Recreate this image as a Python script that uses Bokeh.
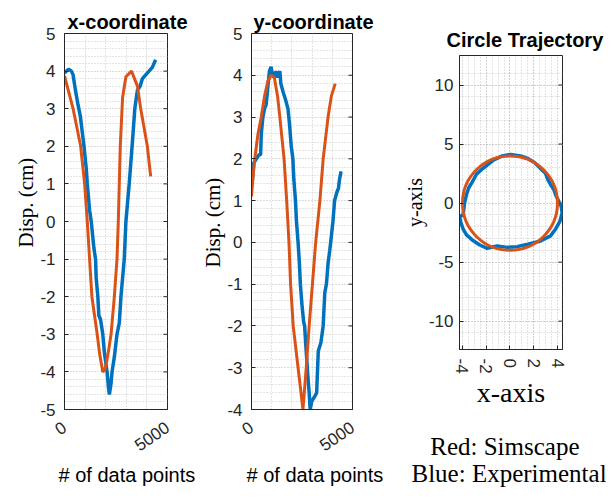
from jinja2 import Template
from bokeh.plotting import figure
from bokeh.models import Range1d, FixedTicker, Title
from bokeh.embed import file_html
from bokeh.resources import INLINE

# ---------------- data ----------------
# x-coordinate panel (index of data point, displacement in cm)
xc_sim_idx = [0, 417, 785, 977, 1106, 1218, 1330, 1587, 1700, 1859, 1950, 2020, 2150, 2260, 2420, 2548,
              2612, 2660, 2708, 2820, 2980, 3253, 3540, 3700, 4022, 4183]
xc_sim_val = [3.87, 3.0, 2.0, 1.0, 0.0, -1.0, -2.0, -3.0, -3.5, -4.0, -3.95, -3.8, -3.4, -3.0, -2.0, -1.0,
              0.0, 1.0, 2.0, 3.3, 3.85, 4.0, 3.6, 3.0, 2.0, 1.2]
xc_exp_idx = [0, 96, 200, 337, 417, 529, 657, 769, 946, 1058, 1106, 1218, 1298, 1426, 1506, 1538, 1619,
              1667, 1747, 1859, 1939, 2067, 2131, 2179, 2260, 2308, 2420, 2548, 2660, 2740, 2821, 2901,
              2981, 3061, 3141, 3253, 3349, 3413, 3462, 3542, 3670, 3782, 3942, 4103, 4263, 4423]
xc_exp_val = [3.95, 4.0, 4.05, 4.0, 3.9, 3.5, 3.1, 2.8, 2.0, 1.4, 1.0, 0.3, 0.0, -0.7, -1.0, -1.5, -2.0,
              -2.5, -2.6, -3.0, -3.5, -4.0, -4.4, -4.6, -4.3, -4.0, -3.6, -3.0, -2.7, -2.0, -1.5, -1.0,
              0.0, 0.5, 1.0, 1.8, 2.5, 3.0, 3.2, 3.5, 3.6, 3.8, 3.9, 4.0, 4.1, 4.3]

# y-coordinate panel
yc_sim_idx = [0, 81, 161, 323, 484, 645, 806, 968, 1129, 1290, 1403, 1613, 1742, 1855, 1935, 2065, 2306,
              2548, 2710, 2855, 3016, 3177, 3387, 3548, 3790, 3952, 4145]
yc_sim_val = [1.1, 1.6, 2.0, 2.6, 3.0, 3.5, 3.85, 4.0, 3.95, 3.5, 3.0, 2.0, 1.0, 0.0, -1.0, -2.0, -3.0,
              -4.0, -3.0, -2.0, -1.0, 0.0, 1.0, 2.0, 3.0, 3.5, 3.8]
yc_exp_idx = [48, 113, 242, 371, 452, 484, 565, 645, 726, 806, 887, 968, 1048, 1129, 1210, 1290, 1403,
              1452, 1565, 1694, 1806, 1887, 1968, 2048, 2097, 2177, 2226, 2306, 2371, 2419, 2500, 2581,
              2629, 2694, 2790, 2855, 2903, 2984, 3113, 3226, 3306, 3435, 3548, 3629, 3710, 3790, 3871,
              3919, 4032, 4113, 4226, 4306, 4355, 4435]
yc_exp_val = [1.5, 1.9, 2.0, 2.1, 2.1, 2.6, 3.0, 3.2, 3.3, 3.7, 4.1, 4.2, 4.0, 3.95, 4.1, 3.95, 4.1,
              3.8, 3.6, 3.4, 3.2, 2.8, 2.3, 2.0, 1.5, 1.0, 0.5, 0.0, -0.5, -1.0, -1.5, -1.9,
              -2.0, -2.5, -3.2, -3.6, -4.0, -3.8, -3.7, -3.6, -2.6, -2.4, -2.0, -1.2, -1.0, -0.5, -0.2,
              0.0, 0.5, 1.0, 1.2, 1.3, 1.5, 1.7]

# circle trajectory panel
circ_exp_x = [3.97, 4.31, 4.39, 4.2, 3.83, 3.41, 2.57, 1.5, 0.6, -0.24, -1.08, -1.92, -2.54, -3.18,
              -3.66, -3.94, -4.17, -4.22, -3.94, -3.83, -3.66, -3.47, -3.18, -2.82, -2.43, -1.92,
              -1.36, -0.66, 0.04, 0.88, 1.5, 2.06, 2.57, 2.99, 3.18, 3.41, 3.69, 3.83, 3.97]
circ_exp_y = [0.44, -0.27, -0.84, -1.55, -2.21, -2.78, -3.21, -3.49, -3.69, -3.75, -3.63, -3.83, -3.55,
              -3.12, -2.69, -2.21, -1.55, -1.13, -0.98, 0.01, 0.73, 1.3, 1.78, 2.44, 2.81, 3.21,
              3.66, 4.0, 4.12, 4.0, 3.78, 3.43, 2.92, 2.52, 2.01, 1.58, 1.15, 0.73, 0.44]
circ_sim_cx = [0.0]
circ_sim_cy = [0.0]
circ_sim_diam = [8.0]

# ticks
idx_ticks = [0, 5000]
idx_minor = [1000, 2000, 3000, 4000]
xc_ticks = [-5, -4, -3, -2, -1, 0, 1, 2, 3, 4, 5]
yc_ticks = [-4, -3, -2, -1, 0, 1, 2, 3, 4, 5]
cx_ticks = [-4, -2, 0, 2, 4]
cy_ticks = [-10, -5, 0, 5, 10]

BLUE = "#0072BD"
RED = "#D95319"
AX = "#262626"
SANS = "Liberation Sans"
SERIF = "Liberation Serif"
NB = "\u00a0"


def minors(ticks, step):
    lo, hi = min(ticks), max(ticks)
    n = int(round((hi - lo) / step))
    vals = [round(lo + i * step, 6) for i in range(n + 1)]
    return [v for v in vals if all(abs(v - t) > 1e-6 for t in ticks)]


def style(p, xt, xm, yt, ym, x_hi):
    p.outline_line_color = AX
    p.outline_line_width = 1
    p.background_fill_color = "white"
    p.border_fill_color = "white"
    for ax, t, m in ((p.xaxis[0], xt, xm), (p.yaxis[0], yt, ym)):
        ax.ticker = FixedTicker(ticks=t, minor_ticks=m)
        ax.major_label_overrides = {v: str(v) for v in t}
        ax.major_tick_in = 4
        ax.major_tick_out = 0
        ax.minor_tick_line_color = None
        ax.axis_line_color = AX
        ax.major_tick_line_color = AX
        ax.major_label_text_font = SANS
        ax.major_label_text_font_size = "17px"
        ax.major_label_text_color = AX
    for g in (p.xgrid[0], p.ygrid[0]):
        g.grid_line_color = "#b8b8b8"
        g.grid_line_dash = "1 2"
        g.minor_grid_line_color = "#c8c8c8"
        g.minor_grid_line_dash = "1 2"
    # tick marks on the right edge of the box (inner half of a dash marker)
    p.scatter(x=[x_hi] * len(yt), y=yt, marker="dash", size=8, line_color=AX, line_width=1)


def add_title(p, side, text, font, size, style_, offset, standoff):
    p.add_layout(Title(text=text, align="left", offset=offset, standoff=standoff,
                       text_font=font, text_font_size=size, text_font_style=style_,
                       text_color="black"), side)


# ---------------- panel 1 ----------------
p1 = figure(width=190, height=490, min_border_left=56, min_border_right=31,
            min_border_top=25, min_border_bottom=89, x_range=Range1d(0, 5000),
            y_range=Range1d(-5, 5), output_backend="svg", toolbar_location=None)
style(p1, idx_ticks, idx_minor, xc_ticks, minors(xc_ticks, 0.2), 5000)
p1.xaxis[0].major_label_orientation = 0.6
p1.xaxis[0].major_label_standoff = 12
p1.yaxis[0].major_label_standoff = 5
p1.line(xc_exp_idx, xc_exp_val, line_color=BLUE, line_width=3.5)
p1.line(xc_sim_idx, xc_sim_val, line_color=RED, line_width=3)
add_title(p1, "above", "x-coordinate", SANS, "20px", "bold", 3, 1)
add_title(p1, "below", "# of data points", SANS, "20px", "normal", -6, 5)
add_title(p1, "left", "Disp. (cm)", SERIF, "21px", "normal", 162, 0)

# ---------------- panel 2 ----------------
p2 = figure(width=202, height=490, min_border_left=50, min_border_right=48,
            min_border_top=25, min_border_bottom=89, x_range=Range1d(0, 5000),
            y_range=Range1d(-4, 5), output_backend="svg", toolbar_location=None)
style(p2, idx_ticks, idx_minor, yc_ticks, minors(yc_ticks, 0.2), 5000)
p2.xaxis[0].major_label_orientation = 0.6
p2.xaxis[0].major_label_standoff = 12
p2.yaxis[0].major_label_standoff = 5
p2.line(yc_exp_idx, yc_exp_val, line_color=BLUE, line_width=3.5)
p2.line(yc_sim_idx, yc_sim_val, line_color=RED, line_width=3)
add_title(p2, "above", "y-coordinate", SANS, "20px", "bold", 2, 1)
add_title(p2, "below", "# of data points", SANS, "20px", "normal", -5, 5)
add_title(p2, "left", "Disp. (cm)", SERIF, "21px", "normal", 142, 0)

# ---------------- panel 3 ----------------
p3 = figure(width=214, height=498, min_border_left=59, min_border_right=52,
            min_border_top=47, min_border_bottom=157, x_range=Range1d(-4.25, 4.42),
            y_range=Range1d(-12.4, 12.5), output_backend="svg", toolbar_location=None)
style(p3, cx_ticks, minors([-4.0, 4.0], 0.5), cy_ticks, minors([-12, 12], 1.0), 4.42)
p3.xaxis[0].major_label_orientation = "vertical"
p3.xaxis[0].major_label_standoff = 5
p3.yaxis[0].major_label_standoff = 2
p3.xaxis[0].axis_label = "x-axis"
p3.xaxis[0].axis_label_text_font = SERIF
p3.xaxis[0].axis_label_text_font_size = "28px"
p3.xaxis[0].axis_label_text_font_style = "normal"
p3.xaxis[0].axis_label_text_color = "black"
p3.xaxis[0].axis_label_standoff = 0
p3.yaxis[0].axis_label = "y-axis"
p3.yaxis[0].axis_label_text_font = SERIF
p3.yaxis[0].axis_label_text_font_size = "20px"
p3.yaxis[0].axis_label_text_font_style = "normal"
p3.yaxis[0].axis_label_text_color = "black"
p3.yaxis[0].axis_label_standoff = 0
p3.line(circ_exp_x, circ_exp_y, line_color=BLUE, line_width=3.5)
p3.ellipse(x=circ_sim_cx, y=circ_sim_cy, width=circ_sim_diam, height=circ_sim_diam,
           fill_color=None, line_color=RED, line_width=3)
add_title(p3, "above", "Circle Trajectory", SANS, "20px", "bold", -13, 10)
add_title(p3, "below", NB * 3 + "Red: Simscape\nBlue: Experimental", SERIF, "25px", "normal", -48, 40)

# three independent roots laid side by side (no shared frame alignment)
page = Template("""{% from macros import embed %}
<!DOCTYPE html>
<html lang="en">
<head>
<meta charset="utf-8">
<title>Bokeh Plot</title>
{{ bokeh_css if bokeh_css }}
{{ bokeh_js if bokeh_js }}
</head>
<body>
<div style="display:flex;flex-direction:row;align-items:flex-start;width:606px;">
{% for doc in docs %}{% for root in doc.roots %}<div style="flex:none;">{{ embed(root) }}</div>{% endfor %}{% endfor %}
</div>
{{ plot_script }}
</body>
</html>
""")

open("out.html", "w").write(file_html([p1, p2, p3], INLINE, template=page))
